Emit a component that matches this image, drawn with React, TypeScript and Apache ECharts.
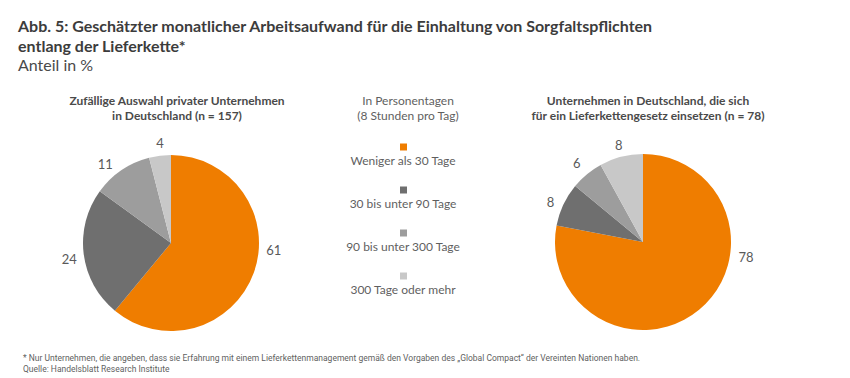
import React, { useEffect, useRef } from "react";
import * as echarts from "echarts";

const categories = [
  "Weniger als 30 Tage",
  "30 bis unter 90 Tage",
  "90 bis unter 300 Tage",
  "300 Tage oder mehr",
];
const colors = ["#EF7D00", "#6F6F6F", "#9D9D9D", "#C8C8C8"];
const leftValues = [61, 24, 11, 4];
const rightValues = [78, 8, 6, 8];

const titleLines = [
  "Abb. 5: Geschätzter monatlicher Arbeitsaufwand für die Einhaltung von Sorgfaltspflichten",
  "entlang der Lieferkette*",
];
const subtitleText = "Anteil in %";
const leftTitle = "Zufällige Auswahl privater Unternehmen\nin Deutschland (n = 157)";
const rightTitle = "Unternehmen in Deutschland, die sich\nfür ein Lieferkettengesetz einsetzen (n = 78)";
const legendHeader = "In Personentagen\n(8 Stunden pro Tag)";
const footnotes = [
  "* Nur Unternehmen, die angeben, dass sie Erfahrung mit einem Lieferkettenmanagement gemäß den Vorgaben des „Global Compact“ der Vereinten Nationen haben.",
  "Quelle: Handelsblatt Research Institute",
];

// label nudges (style only), per slice
const leftLabelShift = [[-2, -26], [8, 4], [2, 2], [10, -3]];
const rightLabelShift = [[28, -61], [5, 2], [5, -3], [9, -2]];

const FONT = "Lato, 'Open Sans', sans-serif";

export default function App() {
  const ref = useRef<HTMLDivElement>(null);
  useEffect(() => {
    document.body.style.margin = "0";
    if (!ref.current) return;
    const chart = echarts.init(ref.current, null, { renderer: "svg" });

    const makePie = (values: number[], cx: number, cy: number, shift: number[][]) => ({
      type: "pie",
      center: [cx, cy],
      radius: 88,
      startAngle: 90,
      clockwise: true,
      silent: true,
      data: values.map((v, i) => ({
        value: v,
        name: categories[i],
        itemStyle: { color: colors[i] },
      })),
      label: {
        show: true,
        position: "outside",
        formatter: "{c}",
        color: "#5a5a5a",
        fontFamily: FONT,
        fontSize: 13,
      },
      labelLine: { show: false, length: 10, length2: 0 },
      labelLayout: (p: any) => ({ dx: shift[p.dataIndex][0], dy: shift[p.dataIndex][1] }),
      avoidLabelOverlap: false,
    });

    const legendY0 = 147;
    const legendStep = 43;
    const graphics: any[] = [];
    categories.forEach((c, i) => {
      graphics.push({
        type: "rect",
        shape: { x: 400, y: legendY0 + i * legendStep - 3.5, width: 7, height: 7 },
        style: { fill: colors[i] },
      });
      graphics.push({
        type: "text",
        x: 403,
        y: legendY0 + i * legendStep + 13,
        style: {
          text: c,
          fill: "#5f5f5f",
          font: `12px ${FONT}`,
          textAlign: "center",
          textVerticalAlign: "middle",
        },
      });
    });
    const headY = [25, 45];
    titleLines.forEach((t, i) => {
      graphics.push({
        type: "text",
        x: 18,
        y: headY[i],
        style: {
          text: t,
          fill: "#3c3c3c",
          font: `bold 16px ${FONT}`,
          textAlign: "left",
          textVerticalAlign: "middle",
        },
      });
    });
    graphics.push({
      type: "text",
      x: 18,
      y: 64,
      style: {
        text: subtitleText,
        fill: "#4a4a4a",
        font: `16px ${FONT}`,
        textAlign: "left",
        textVerticalAlign: "middle",
      },
    });

    const subTitle = (text: string, x: number, bold: boolean) => ({
      text,
      left: x,
      top: 88,
      textAlign: "center",
      textStyle: {
        fontFamily: FONT,
        fontWeight: bold ? "bold" : "normal",
        fontSize: 12,
        lineHeight: 15,
        color: bold ? "#4a4a4a" : "#5f5f5f",
        align: "center",
      },
    });

    chart.setOption({
      animation: false,
      title: [
        subTitle(leftTitle, 172, true),
        subTitle(rightTitle, 643, true),
        subTitle(legendHeader, 403, false),
        {
          text: footnotes.join("\n"),
          left: 18,
          top: 347,
          textStyle: {
            fontFamily: "Roboto, sans-serif",
            fontWeight: "normal",
            fontSize: 8.5,
            lineHeight: 11.5,
            color: "#5f5f5f",
          },
        },
      ],
      graphic: graphics,
      series: [
        makePie(leftValues, 171, 243, leftLabelShift),
        makePie(rightValues, 643, 242, rightLabelShift),
      ],
    });
    return () => chart.dispose();
  }, []);
  return <div ref={ref} style={{ width: 850, height: 378 }} />;
}
